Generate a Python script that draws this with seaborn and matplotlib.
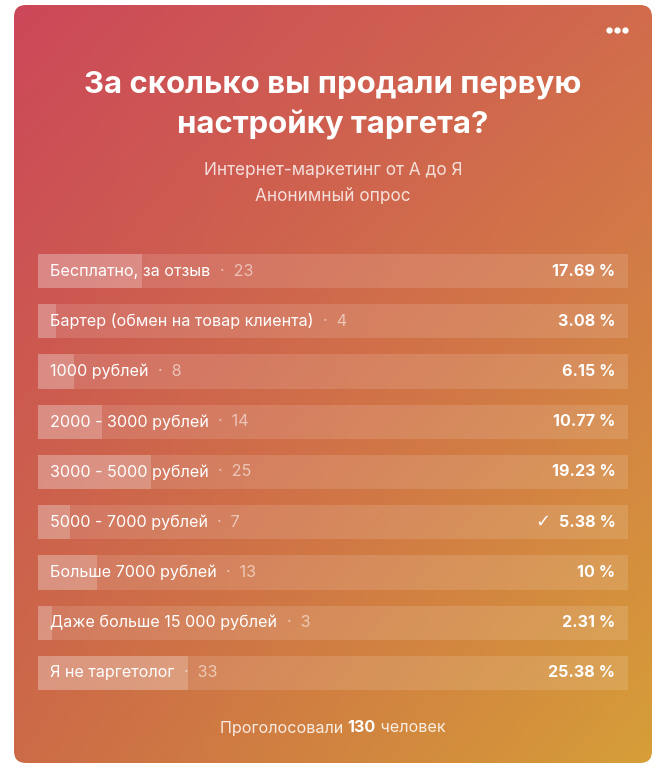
import numpy as np
import matplotlib
matplotlib.use("Agg")
import matplotlib.pyplot as plt
from matplotlib.patches import FancyBboxPatch
import seaborn as sns

labels = ["Бесплатно, за отзыв", "Бартер (обмен на товар клиента)", "1000 рублей",
          "2000 - 3000 рублей", "3000 - 5000 рублей", "5000 - 7000 рублей",
          "Больше 7000 рублей", "Даже больше 15 000 рублей", "Я не таргетолог"]
votes = [23, 4, 8, 14, 25, 7, 13, 3, 33]
percents = [17.69, 3.08, 6.15, 10.77, 19.23, 5.38, 10, 2.31, 25.38]
pct_text = ["17.69 %", "3.08 %", "6.15 %", "10.77 %", "19.23 %", "5.38 %", "10 %", "2.31 %", "25.38 %"]
track = [100] * len(labels)
checked = 5
total = 130

FS = 11.6
W, H = 670, 771
fig = plt.figure(figsize=(W / 100, H / 100), dpi=100)
bg = fig.add_axes([0, 0, 1, 1])
bg.set_xlim(0, W); bg.set_ylim(H, 0); bg.axis("off")

c_tl = np.array([0.80, 0.28, 0.35]); c_tr = np.array([0.82, 0.42, 0.30])
c_bl = np.array([0.80, 0.42, 0.28]); c_br = np.array([0.84, 0.62, 0.22])
u = np.linspace(0, 1, 200)[None, :, None]; v = np.linspace(0, 1, 230)[:, None, None]
img = (1 - u) * (1 - v) * c_tl + u * (1 - v) * c_tr + (1 - u) * v * c_bl + u * v * c_br
card = FancyBboxPatch((14, 5), 638, 758, boxstyle="round,pad=0,rounding_size=12",
                      transform=bg.transData, facecolor="none", edgecolor="none")
bg.add_patch(card)
im = bg.imshow(img, extent=[14, 652, 763, 5], aspect="auto", zorder=0)
im.set_clip_path(card)

for dx in (-8, 0, 8):
    bg.plot(617 + dx, 30, "o", color="white", ms=3.5)

bg.text(333, 85, "За сколько вы продали первую", ha="center", va="center",
        color="white", fontsize=22.4, fontweight="bold", family="Inter")
bg.text(333, 125, "настройку таргета?", ha="center", va="center",
        color="white", fontsize=22.4, fontweight="bold", family="Inter")
bg.text(333, 170, "Интернет-маркетинг от А до Я", ha="center", va="center",
        color=(1, 1, 1, 0.8), fontsize=12.4, family="Inter")
bg.text(333, 197, "Анонимный опрос", ha="center", va="center",
        color=(1, 1, 1, 0.8), fontsize=12.4, family="Inter")
t1 = bg.text(220, 728, "Проголосовали ", ha="left", va="center",
             color=(1, 1, 1, 0.85), fontsize=FS, family="Inter")
t2 = bg.annotate(f"{total}", xycoords=t1, xy=(1, 0.5), va="center", ha="left",
                 color="white", fontsize=FS, family="Inter", fontweight="bold")
bg.annotate(" человек", xycoords=t2, xy=(1, 0.5), va="center", ha="left",
            color=(1, 1, 1, 0.85), fontsize=FS, family="Inter")

ax = fig.add_axes([38 / W, 1 - 698 / H, 590 / W, 452 / H])
ax.patch.set_alpha(0)
sns.barplot(x=track, y=labels, ax=ax, color="white", alpha=0.13, width=0.68,
            orient="h", saturation=1)
sns.barplot(x=percents, y=labels, ax=ax, color="white", alpha=0.2, width=0.68,
            orient="h", saturation=1)
ax.set_xlim(0, 100)
ax.axis("off")
for i, (lab, n, p) in enumerate(zip(labels, votes, pct_text)):
    t = ax.annotate(lab, (0, i), xytext=(9, 0), textcoords="offset points", va="center",
                    color="white", fontsize=FS, family="Inter")
    ax.annotate(f"  ·  {n}", xycoords=t, xy=(1, 0.5), va="center", ha="left",
                color=(1, 1, 1, 0.55), fontsize=FS, family="Inter")
    ax.annotate(p, (100, i), xytext=(-9, 0), textcoords="offset points", va="center",
                ha="right", color="white", fontsize=FS, fontweight="bold", family="Inter")
    if i == checked:
        ax.annotate("✓", (100, i), xytext=(-56, 0), textcoords="offset points",
                    va="center", ha="right", color="white", fontsize=13,
                    fontweight="bold", family="DejaVu Sans")

fig.savefig("out.png", dpi=100, facecolor="white")
